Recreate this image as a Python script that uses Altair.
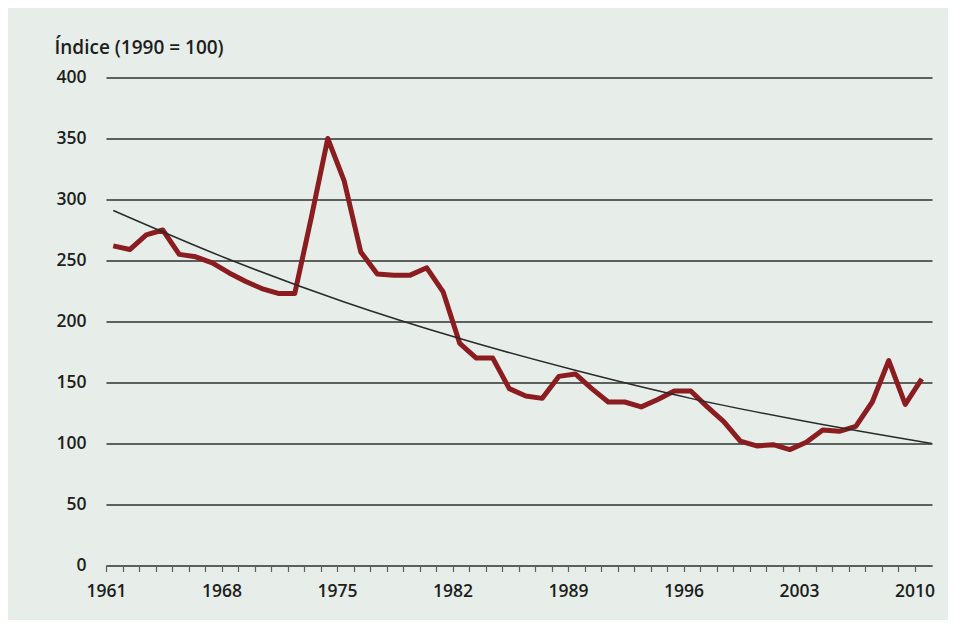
import altair as alt
import pandas as pd

years = list(range(1961, 2011))
index_values = [262, 259, 271, 275, 255, 253, 248, 240, 233, 227,
                223, 223, 285, 350, 315, 257, 239, 238, 238, 244,
                224, 182, 170, 170, 145, 139, 137, 155, 157, 145,
                134, 134, 130, 136, 143, 143, 130, 118, 102, 98,
                99, 95, 101, 111, 110, 114, 134, 168, 132, 153]

trend_years = [1961, 1968, 1975, 1982, 1989, 1996, 2003, 2010.6]
trend_values = [291, 251, 216, 186, 160, 137, 118, 100]

y_ticks = [0, 50, 100, 150, 200, 250, 300, 350, 400]
x_tick_values = [round(1960.56 + k, 2) for k in range(50)]

df = pd.DataFrame({"year": years, "value": index_values})
dt = pd.DataFrame({"year": trend_years, "value": trend_values})

FONT = "Open Sans"
BG = "#e7eee9"
GRID = "#5c615e"

x_enc = alt.X(
    "year:Q",
    scale=alt.Scale(domain=[1960.56, 2010.62], nice=False, zero=False),
    axis=alt.Axis(
        values=x_tick_values,
        tickCount=100,
        labelExpr="(round(datum.value) - 1961) % 7 == 0 ? '' + round(datum.value) : ''",
        grid=False,
        domain=True,
        domainColor=GRID,
        domainWidth=1.5,
        ticks=True,
        tickColor=GRID,
        tickSize=6,
        tickWidth=1.2,
        labelPadding=11,
        labelFont=FONT,
        labelFontSize=17.5,
        labelFontWeight=600,
        labelColor="#1e1e1e",
        labelOverlap=False,
        labelFlush=False,
        title=None,
    ),
)

y_enc = alt.Y(
    "value:Q",
    scale=alt.Scale(domain=[0, 400], nice=False),
    axis=alt.Axis(
        values=y_ticks,
        grid=True,
        gridColor=GRID,
        gridWidth=2,
        domain=False,
        ticks=False,
        labelPadding=20,
        labelFont=FONT,
        labelFontSize=17.5,
        labelFontWeight=600,
        labelColor="#1e1e1e",
        title="Índice (1990 = 100)",
        titleAngle=0,
        titleX=-52,
        titleY=-30,
        titleAlign="left",
        titleBaseline="middle",
        titleFont=FONT,
        titleFontSize=19,
        titleFontWeight=600,
        titleColor="#1e1e1e",
    ),
)

red = alt.Chart(df).mark_line(
    color="#8b1c1f", strokeWidth=5, strokeJoin="round"
).encode(x=x_enc, y=y_enc)

trend = alt.Chart(dt).mark_line(
    color="#2a2a2a", strokeWidth=1.5, interpolate="monotone"
).encode(x="year:Q", y="value:Q")

chart = (
    alt.layer(red, trend)
    .properties(
        width=826,
        height=488,
        autosize=alt.AutoSizeParams(type="none"),
        padding={"left": 98, "top": 69.5, "right": 16, "bottom": 54.5},
        background=BG,
    )
    .configure_view(strokeWidth=0)
)

chart.save("out.html", embed_options={"renderer": "svg", "actions": False})
